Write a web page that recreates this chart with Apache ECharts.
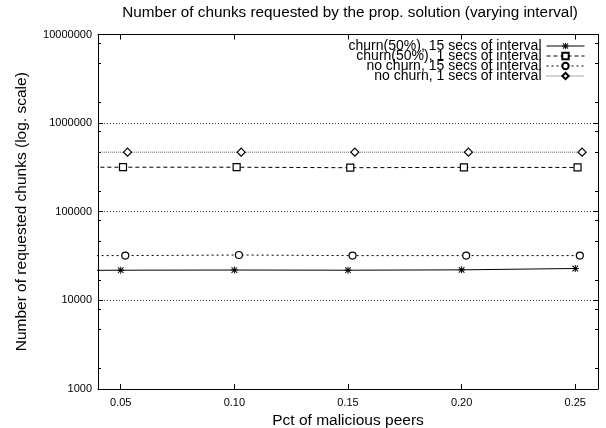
<!DOCTYPE html>
<html><head><meta charset="utf-8">
<script src="https://cdn.jsdelivr.net/npm/echarts@6/dist/echarts.min.js"></script>
<style>html,body{margin:0;padding:0;background:#fff}#c{width:606px;height:428px}</style>
</head><body><div id="c"></div>
<script>
const titleText = 'Number of chunks requested by the prop. solution (varying interval)';
const xAxisName = 'Pct of malicious peers';
const yAxisName = 'Number of requested chunks (log. scale)';
const seriesNames = ['churn(50%), 15 secs of interval', 'churn(50%), 1 secs of interval', 'no churn, 15 secs of interval', 'no churn, 1 secs of interval'];

const pctChurn15   = [0.000, 0.050, 0.100, 0.150, 0.200, 0.250];
const pctChurn1    = [0.001, 0.051, 0.101, 0.151, 0.201, 0.251];
const pctNoChurn15 = [0.002, 0.052, 0.102, 0.152, 0.202, 0.252];
const pctNoChurn1  = [0.003, 0.053, 0.103, 0.153, 0.203, 0.253];

const chunksChurn15   = [21600, 21900, 22000, 21900, 22100, 22900];
const chunksChurn1    = [318000, 318000, 318000, 314000, 317000, 316000];
const chunksNoChurn15 = [32000, 32000, 32500, 32000, 32000, 32000];
const chunksNoChurn1  = [470000, 470000, 470000, 470000, 470000, 470000];

const xTickValues = [0.05, 0.10, 0.15, 0.20, 0.25];
const yTickValues = [1000, 10000, 100000, 1000000, 10000000];
const yMinorTickValues = [1700, 4700, 8000, 17000, 47000, 80000, 170000, 470000, 800000, 1700000, 4700000, 8000000];

const FONT = 'Liberation Sans, Arial, Helvetica, sans-serif';
const zip = (xs, ys) => xs.map((x, i) => [x, ys[i]]);
const ASTERISK = 'path://M0,4.3L10,4.3L10,5.7L0,5.7Z M4.3,0L5.7,0L5.7,10L4.3,10Z M0.5,1.5L1.5,0.5L9.5,8.5L8.5,9.5Z M8.5,0.5L9.5,1.5L1.5,9.5L0.5,8.5Z';

const chart = echarts.init(document.getElementById('c'), null, {renderer: 'canvas'});
const black = '#000';

function mkSeries(name, xs, ys, symbol, dash, lineColor, symbolSize, filled) {
  return {
    name: name, type: 'line', data: zip(xs, ys),
    xAxisIndex: 0, yAxisIndex: 0,
    symbol: symbol, symbolSize: symbolSize, showSymbol: true, showAllSymbol: true,
    clip: true, animation: false,
    lineStyle: {color: lineColor, width: 1, type: dash},
    itemStyle: filled
      ? {color: black, borderWidth: 0}
      : {color: '#fff', borderColor: black, borderWidth: 1.2},
    emphasis: {disabled: true}
  };
}

const option = {
  backgroundColor: '#fff',
  animation: false,
  title: {
    text: titleText, left: 350, top: 5, textAlign: 'center', padding: 0,
    textStyle: {fontFamily: FONT, fontSize: 15.3, fontWeight: 'normal', color: black}
  },
  legend: {
    top: 39, right: 21, orient: 'vertical', align: 'right', padding: 0,
    itemWidth: 38, itemHeight: 8, itemGap: -4,
    lineStyle: {width: 1},
    textStyle: {fontFamily: FONT, fontSize: 14, color: black},
    data: seriesNames, selectedMode: false
  },
  grid: {left: 98, right: 8, top: 34.5, bottom: 39, containLabel: false, outerBoundsMode: 'none'},
  xAxis: [
    {
      type: 'value', position: 'bottom', min: 0.04, max: 0.26,
      name: xAxisName, nameLocation: 'middle', nameGap: 17,
      nameTextStyle: {fontFamily: FONT, fontSize: 15.5, color: black},
      axisLine: {show: true, onZero: false, lineStyle: {color: black, width: 1}},
      axisTick: {show: true, inside: true, length: 5, customValues: xTickValues, lineStyle: {color: black}},
      axisLabel: {show: true, customValues: xTickValues, margin: 8, fontFamily: FONT, fontSize: 11, color: black,
        formatter: v => v.toFixed(2)},
      splitLine: {show: false}
    },
    {
      type: 'value', position: 'top', min: 0.04, max: 0.26,
      axisLine: {show: true, onZero: false, lineStyle: {color: black, width: 1}},
      axisTick: {show: true, inside: true, length: 5, customValues: xTickValues, lineStyle: {color: black}},
      axisLabel: {show: false},
      splitLine: {show: false}
    }
  ],
  yAxis: [
    {
      type: 'log', logBase: 10, position: 'left', min: yTickValues[0], max: yTickValues[yTickValues.length - 1],
      name: yAxisName, nameLocation: 'middle', nameGap: 68,
      nameTextStyle: {fontFamily: FONT, fontSize: 15.5, color: black},
      axisLine: {show: true, onZero: false, lineStyle: {color: black, width: 1}},
      axisTick: {show: true, inside: true, length: 5, lineStyle: {color: black}},
      axisLabel: {show: true, margin: 6, fontFamily: FONT, fontSize: 11, color: black,
        formatter: v => String(Math.round(v))},
      splitLine: {show: true, lineStyle: {color: '#333', width: 1, type: [1, 2]}}
    },
    {
      type: 'log', logBase: 10, position: 'right', min: yTickValues[0], max: yTickValues[yTickValues.length - 1],
      axisLine: {show: true, onZero: false, lineStyle: {color: black, width: 1}},
      axisTick: {show: true, inside: true, length: 5, lineStyle: {color: black}},
      axisLabel: {show: false},
      splitLine: {show: false}
    },
    {
      type: 'value', position: 'left', min: Math.log10(yTickValues[0]), max: Math.log10(yTickValues[yTickValues.length - 1]),
      axisLine: {show: false},
      axisTick: {show: true, inside: true, length: 3, customValues: yMinorTickValues.map(v => Math.log10(v)), lineStyle: {color: black}},
      axisLabel: {show: false},
      splitLine: {show: false}
    },
    {
      type: 'value', position: 'right', min: Math.log10(yTickValues[0]), max: Math.log10(yTickValues[yTickValues.length - 1]),
      axisLine: {show: false},
      axisTick: {show: true, inside: true, length: 3, customValues: yMinorTickValues.map(v => Math.log10(v)), lineStyle: {color: black}},
      axisLabel: {show: false},
      splitLine: {show: false}
    }
  ],
  series: [
    mkSeries(seriesNames[0], pctChurn15, chunksChurn15, ASTERISK, 'solid', black, 7, true),
    mkSeries(seriesNames[1], pctChurn1, chunksChurn1, 'rect', [4, 3], black, 7, false),
    mkSeries(seriesNames[2], pctNoChurn15, chunksNoChurn15, 'circle', [2, 3], black, 7, false),
    mkSeries(seriesNames[3], pctNoChurn1, chunksNoChurn1, 'diamond', [1, 1], '#555', 8, false)
  ]
};
chart.setOption(option);
</script>
</body></html>
